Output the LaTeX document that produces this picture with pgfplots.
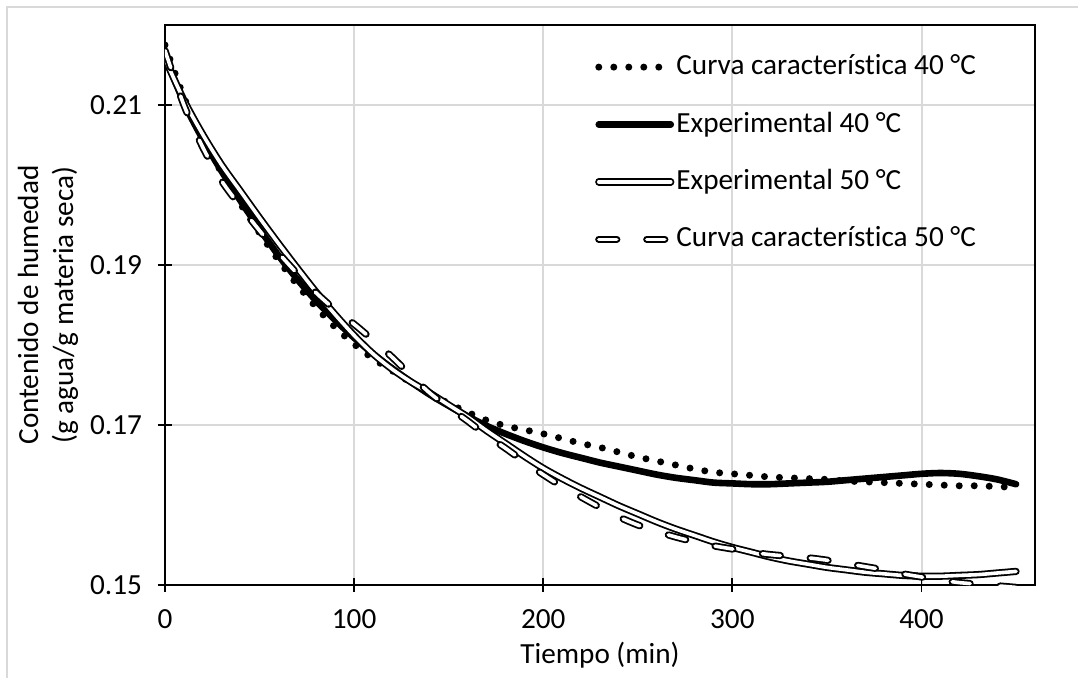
\documentclass[border=0pt]{standalone}
\usepackage{pgfplots}
\pgfplotsset{compat=1.18}
\usepackage{pgfplotstable}
\usepackage{fontspec}
\setmainfont[RawFeature={-liga;-clig;-calt;-dlig}]{Carlito}
\definecolor{gridgray}{HTML}{D9D9D9}

\pgfplotstableread{
t y
0 0.2175
10 0.2110
20 0.2058
30 0.2015
40 0.1976
50 0.1940
60 0.1906
70 0.1875
80 0.1847
90 0.1822
100 0.1801
110 0.1783
120 0.1768
130 0.1753
140 0.1740
150 0.1727
160 0.1716
170 0.1706
180 0.1699
190 0.1694
200 0.1689
210 0.1683
220 0.1677
230 0.1672
240 0.1666
250 0.1660
260 0.1655
270 0.1650
280 0.1645
290 0.1641
300 0.1639
310 0.1637
320 0.1635
330 0.1634
340 0.1633
350 0.1632
360 0.1630
370 0.1629
380 0.1628
390 0.1627
400 0.1626
410 0.1625
420 0.1624
430 0.1624
440 0.1623
450 0.1622
}\curvaA

\pgfplotstableread{
t y
0 0.2162
10 0.2103
20 0.2057
30 0.2017
40 0.1980
50 0.1945
60 0.1912
70 0.1882
80 0.1855
90 0.1831
100 0.1809
110 0.1789
120 0.1771
130 0.1754
140 0.1738
150 0.1724
160 0.1711
170 0.1699
180 0.1689
190 0.1680
200 0.1672
210 0.1665
220 0.1659
230 0.1653
240 0.1648
250 0.1643
260 0.1638
270 0.1634
280 0.1631
290 0.1628
300 0.1627
310 0.1626
320 0.1626
330 0.1627
340 0.1628
350 0.1629
360 0.1631
370 0.1633
380 0.1635
390 0.1637
400 0.1639
410 0.1640
420 0.1639
430 0.1636
440 0.1632
450 0.1626
}\expA

\pgfplotstableread{
t y
0 0.2158
10 0.2106
20 0.2063
30 0.2025
40 0.1992
50 0.1959
60 0.1927
70 0.1896
80 0.1866
90 0.1838
100 0.1812
110 0.1789
120 0.1770
130 0.1754
140 0.1740
150 0.1725
160 0.1710
170 0.1693
180 0.1677
190 0.1661
200 0.1646
210 0.1633
220 0.1621
230 0.1610
240 0.1599
250 0.1589
260 0.1579
270 0.1570
280 0.1562
290 0.1554
300 0.1547
310 0.1541
320 0.1535
330 0.1530
340 0.1526
350 0.1522
360 0.1519
370 0.1516
380 0.1514
390 0.1512
400 0.1511
410 0.1511
420 0.1512
430 0.1513
440 0.1515
450 0.1517
}\expB

\pgfplotstableread{
t y
0 0.2168
10 0.2100
20 0.2047
30 0.2005
40 0.1973
50 0.1943
60 0.1915
70 0.1889
80 0.1865
90 0.1844
100 0.1826
110 0.1806
120 0.1785
130 0.1762
140 0.1740
150 0.1722
160 0.1705
170 0.1687
180 0.1671
190 0.1654
200 0.1638
210 0.1623
220 0.1610
230 0.1597
240 0.1585
250 0.1575
260 0.1567
270 0.1560
280 0.1554
290 0.1549
300 0.1545
310 0.1541
320 0.1538
330 0.1536
340 0.1534
350 0.1531
360 0.1527
370 0.1523
380 0.1519
390 0.1514
400 0.1510
410 0.1506
420 0.1503
430 0.1501
440 0.1499
450 0.1497
}\curvaB

\tikzset{
  dotsty/.style={line width=3.5pt, line cap=round, dash pattern=on 0pt off 7.5pt},
  thicksty/.style={line width=3.3pt, line cap=round},
  dblsty/.style={line width=0.9pt, double=white, double distance=1.8pt, line cap=round},
  dbldashsty/.style={line width=0.9pt, double=white, double distance=1.8pt, line cap=round, dash pattern=on 9pt off 15pt},
}

\begin{document}
\fontsize{14.6}{17.5}\selectfont
\begin{tikzpicture}
\useasboundingbox (0,0) rectangle (539pt,338.5pt);
\draw[gridgray, line width=1pt] (3.5pt,-5pt) -- (3.5pt,335pt) -- (545pt,335pt);
\begin{axis}[
  at={(82.5pt,46pt)}, anchor=south west,
  scale only axis, width=435pt, height=280pt,
  xmin=0, xmax=460, ymin=0.15, ymax=0.22,
  xtick={0,100,200,300,400},
  xticklabels={0,100,200,300,400},
  ytick={0.15,0.17,0.19,0.21},
  yticklabels={0.15,0.17,0.19,0.21},
  tick pos=left,
  tick align=center,
  major tick length=7pt,
  tick style={black, line width=0.9pt},
  axis line style={line width=1.1pt},
  yticklabel style={xshift=-3pt},
  xticklabel style={yshift=-3.5pt},
  grid=major,
  grid style={gridgray, line width=1pt},
  xlabel={Tiempo (min)},
  ylabel={Contenido de humedad\\(g agua/g materia seca)},
  every axis y label/.style={at={(axis description cs:-0.1345,0.5)}, rotate=90, anchor=center, align=center},
  every axis x label/.style={at={(axis description cs:0.5,-0.125)}, anchor=center},
  legend cell align=left,
  legend style={at={(rel axis cs:0.494,0.955)}, anchor=north west, draw=none, fill=none, inner sep=0pt,
    row sep=12.2pt,
    nodes={inner sep=1pt, text height=11pt, text depth=3.5pt}},
  legend image code/.code={\draw[#1] (0pt,0pt) -- (36pt,0pt);},
]
\addplot[black, dotsty, smooth] table[x=t,y=y] {\curvaA};
\addlegendentry{Curva característica 40 °C}
\addplot[black, thicksty, smooth] table[x=t,y=y] {\expA};
\addlegendentry{Experimental 40 °C}
\addplot[black, dblsty, smooth] table[x=t,y=y] {\expB};
\addlegendentry{Experimental 50 °C}
\addplot[black, dbldashsty, smooth] table[x=t,y=y] {\curvaB};
\addlegendentry{Curva característica 50 °C}
\end{axis}
\end{tikzpicture}
\end{document}
